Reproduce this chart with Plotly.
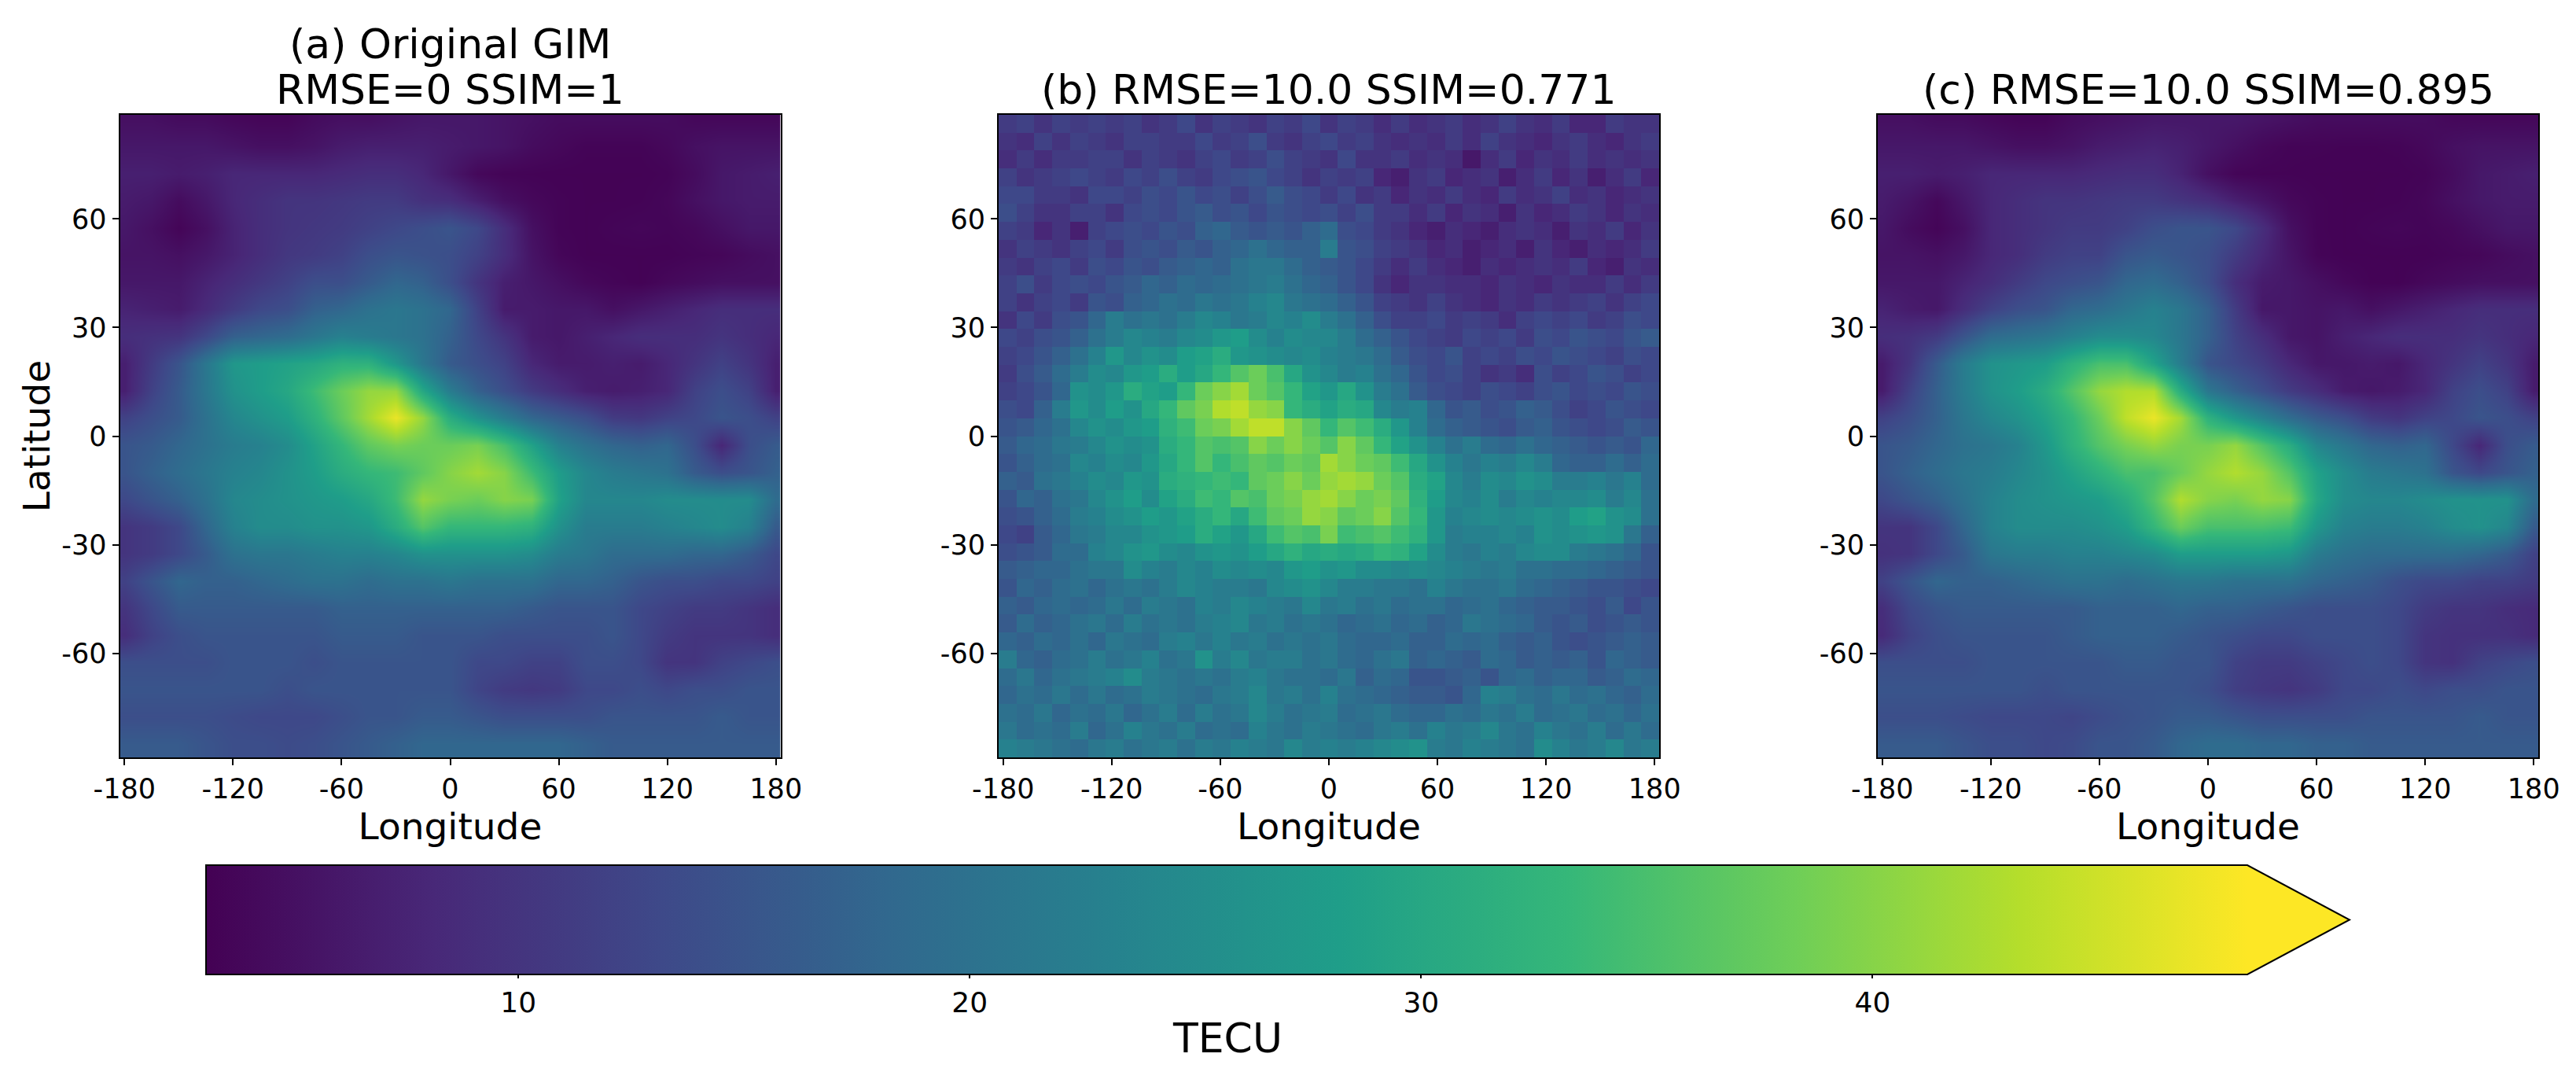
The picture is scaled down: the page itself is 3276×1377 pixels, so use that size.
# plot.py - TECU maps
import plotly.graph_objects as go

W, H = 3276, 1377

lon_ticks = [-180, -120, -60, 0, 60, 120, 180]
lon_labels = ["-180", "-120", "-60", "0", "60", "120", "180"]
lat_ticks = [-60, -30, 0, 30, 60]
lat_labels = ["-60", "-30", "0", "30", "60"]
cbar_ticks = [10, 20, 30, 40]

title_lines = [["RMSE=0 SSIM=1", "(a) Original GIM"], ["(b) RMSE=10.0 SSIM=0.771"], ["(c) RMSE=10.0 SSIM=0.895"]]

zmin, zmax = 3.1, 48.3

# coarse grid (a) and (c)
smooth_lon = [-180, -165, -150, -135, -120, -105, -90, -75, -60, -45, -30, -15, 0, 15, 30, 45, 60, 75, 90, 105, 120, 135, 150, 165, 180]
smooth_lat = [87.5, 80, 72.5, 65, 57.5, 50, 42.5, 35, 27.5, 20, 12.5, 5, -2.5, -10, -17.5, -25, -32.5, -40, -47.5, -55, -62.5, -70, -77.5, -85]

gim_a = [
    [5,5,4.5,4.5,4,3.7,3.7,4.5,5,5,5.5,6,6,6,5.5,5,4.5,4.5,4.5,4.5,4.5,4,4,4,4],
    [6,6,6,6,5.5,5,5,5.5,6.5,7,7,7,6.5,6,5.5,4.5,4,3.5,3.5,3.5,4,5,5.5,5.5,5.5],
    [7,7,6.5,7,8,8,8,8,8.5,9,9,8,6,4,3.5,3.4,3.3,3.3,3.3,3.3,3.5,4.5,6,6.5,7],
    [6.5,6,4.5,6,8,9,10,10,10.5,11,11,9.5,9,7,5,4,3.5,3.3,3.3,3.4,3.8,5,6,6.5,6.5],
    [6,5,3.6,5,7.5,9,10,10.5,11,12,13,14,15,13,9,5,3.5,3.3,3.6,3.8,3.6,4,5,6,6],
    [5.5,5.5,5,6,7.5,9,10.5,11,12,14,15,14.5,14,12,9,5.5,3.8,3.3,3.3,3.3,3.3,3.6,3.8,4.5,5],
    [6,6,6,7.5,9,10.5,12,14,14,16,18,17,14,10,7,6,5,4,3.6,3.3,4,4.5,5,5,5],
    [7.5,7,6.5,8.5,11,13,14,17,18,20,21,20,18,12,6.5,6.5,6,6,5,6,7,8,9,9,9],
    [9,9.5,10,13,17,18,19,21,23,22,21,20,17,13,10,6.5,6,7,8,9,9,9,10,9,8],
    [7,11,15,21,27,28,29,30,32,32,27,21,16,14,12,8,6.5,6.5,7,6.5,8,10,12,10,7],
    [7,12,16,21,26,28,30,34,38,41,41,30,22,17,14,11,9,7,6.5,7,8,12,14,12,7],
    [12,14,16,20,24,26,28,32,37,42,47,41,31,26,22,18,16,14,11,10.5,12,13,15,14,12],
    [15,16,18,20,22,23,25,29,33,37,39,38,38,39,35,29,23,20,18,17,18,14,8,14,16],
    [15,17,19,21,23,24,26,28,31,33,34,37,40,42,40,34,28,24,22,21,20,16,14,15,17],
    [13,15,17,20,24,25,26,27,28,30,34,41,39,38,40,39,29,24,24,24,25,25,25,25,19],
    [10,11,13,18,23,25,25,26,26,27,31,36,33,33,33,32,26,22,22,22,23,24,25,23,16],
    [10,11,13,16,20,21,21,22,23,23,24,26,26,26,26,25,22,21,19,19,19,18,18,16,13],
    [12,15,18,17,17,18,19,20,20,19,20,20,21,20,20,20,18,18,17,15,14,14,13,13,12],
    [10,13,16,16,16,16,16,16,17,17,17,17,17,17,17,16,15,15,15,13,12,11,11,10,9],
    [9,12,14,15,15,15,15,15,16,16,16,15,15,15,14,14,14,14,15,13,11,10,10,10,9],
    [14,14,14,14,15,15,15,14,15,15,15,15,15,13,13,12,12,14,14,13,10,10,12,13,14],
    [15,15,15,15,15,15,14,15,15,15,15,15,15,12.5,11,10.5,11,13,13,14,13,14,14,15,15],
    [14,14,14,14,13.5,13,13,13,14,15,15,16,16,15,14,14,14,14,15,15,15,15,16,15,15],
    [16,16,16,15,14,14,13.5,14,15,16,17,18,18,18,18,18,18,17,16,16,16,16,16,16,16],
]

gim_c = [
    [5,5,4.5,4.5,4,3.6,3.6,4.5,5,5.5,6,6,6,6,5.5,5,4.5,4.5,4.5,4.5,4.5,4,4,4,4],
    [6,6,6,6,5.5,5,5,5.5,6.5,7,7.5,7,6,5,4,3.5,3.5,3.4,3.4,3.5,4,5,5.5,5.5,5.5],
    [7,7,6.5,7,8,8,8,8,8.5,9,9,7.5,5,3.6,3.4,3.4,3.3,3.3,3.3,3.3,3.5,4.5,6,6.5,7],
    [6.5,5.5,4,6,8,9,10,10,10.5,11,11,10,9,7,5.5,4,3.5,3.3,3.3,3.4,3.8,5,6,6.5,6.5],
    [6,4.5,3.6,5,8,9,10,11,11,12,14,15,15,13,9,5,3.5,3.3,3.6,3.8,3.6,4,5,6,6],
    [5.5,5.5,5,6,8,9,11,12,12,15,16,15,14,11,8,5.5,3.6,3.3,3.3,3.3,3.3,3.6,3.8,4.5,5],
    [6,6,6,7.5,9,11,13,14,15,18,19,17,14,9,6.5,6,5,4,3.4,3.3,4,4.5,5,5,5],
    [7.5,6.5,6,9,12,14,15,18,19,21,23,21,17,11,6,6,5.5,6,5,6,7,8,9,9,9],
    [9,9.5,11,15,19,20,21,23,25,25,24,21,17,12,9,6,5.5,7,8,9,9,9,10,9,8],
    [6.5,10,16,22,26,27,28,32,35,35,29,22,15,13,11,8,6,6,6.5,6,8,10,12,10,6.5],
    [6.5,12,17,22,26,28,31,36,41,43,43,31,21,17,14,11,9,6.5,6,6.5,8,12,14,12,6.5],
    [12,14,17,21,24,26,29,33,38,44,47,42,32,27,23,19,16,14,11,10,12,13,15,14,12],
    [15,16,18,20,21,23,27,32,36,39,41,39,39,41,36,31,24,21,18,17,18,13,8,14,16],
    [15,17,19,21,22,24,26,29,32,35,35,38,41,43,41,36,29,25,22,21,20,15,13,15,17],
    [13,15,17,20,23,25,26,27,28,31,36,43,40,39,41,40,30,25,24,24,25,26,26,26,19],
    [10,10,13,18,23,25,25,25,26,28,33,38,35,35,35,34,27,23,22,22,23,25,26,24,16],
    [9.5,10,13,16,21,22,22,23,23,24,25,28,28,28,28,27,22,20,19,19,19,19,18,16,12],
    [12,15,18,17,17,18,19,20,20,19,20,21,21,20,20,20,18,17,16,14,13,13,12,12,11],
    [9,13,15,16,16,16,16,16,17,17,17,18,17,17,16,15,14,14,14,13,11,10,10,9,8.5],
    [8.5,12,14,15,15,15,15,16,17,17,17,16,15,14,13,13,14,14,14,13,10,9.5,9.5,9.5,8.5],
    [14,14,14,14,15,15,15,15,15,16,16,15,15,12,11,11,12,13,14,13,10,9.5,12,13,14],
    [15,15,15,15,15,15,14,15,15,15,15,15,14,11.5,10.5,10,11,13,13,14,13,14,14,15,15],
    [14,14,14,13.5,13,13,13,12.5,13.5,14.5,15,16,16,15,14,14,14,14,15,15,15,15,16,15,15],
    [16,16,16,15,14,14,13,13.5,15,15,16,18,19,19,18,18,17,17,16,16,16,16,16,16,16],
]

# panel (b) read as blocks of 2x2 original cells
gim_b = [
    [11,12,10,12,11,12,11,12,10,11,13,10,12,11,10,12,11,13,10,12,11,9,11,9,10,11,9,10,12,10,9,11,8,8,11,10,10],
    [10,9,12,10,12,11,10,12,12,11,11,13,11,12,14,11,10,12,13,11,12,10,9,10,9,11,9,12,10,9,8,10,11,9,8,10,11],
    [9,11,9,11,11,12,12,10,12,11,10,12,13,11,12,14,12,11,10,13,10,10,11,9,10,9,6,9,11,8,10,9,11,9,10,9,10],
    [12,10,11,12,13,12,11,13,12,14,12,11,13,14,15,13,12,10,12,11,12,8,7,10,11,8,9,10,7,9,11,8,10,7,9,11,8],
    [13,13,11,11,10,13,13,12,14,13,15,13,14,12,14,16,14,13,11,13,10,11,8,10,9,11,9,8,11,9,10,12,9,10,8,9,10],
    [14,12,10,10,12,12,10,13,14,13,15,16,14,15,13,15,14,13,14,12,14,11,11,9,11,8,10,9,7,10,8,9,11,10,8,10,9],
    [12,11,8,10,7,12,13,14,13,15,14,17,18,16,15,16,15,17,19,14,13,11,10,8,7,9,8,7,9,10,9,7,10,9,11,8,10],
    [10,12,11,10,12,13,11,14,15,14,16,15,17,18,20,18,17,17,22,15,14,12,11,10,8,9,7,8,9,7,10,8,7,9,8,9,11],
    [11,10,12,13,11,14,13,15,14,16,17,18,17,20,21,21,19,17,16,15,13,11,9,11,9,8,7,9,8,9,10,9,11,8,7,10,9],
    [12,14,11,13,14,13,15,16,18,17,19,18,19,20,21,22,20,18,17,15,13,10,8,10,10,9,9,8,10,9,8,10,9,9,11,9,11],
    [12,10,12,13,11,15,14,17,18,20,19,21,20,21,23,24,21,20,19,17,15,12,11,10,12,10,9,8,10,9,11,10,11,12,10,12,13],
    [10,13,11,14,15,18,22,20,21,20,22,24,23,21,22,24,23,25,22,20,17,14,12,12,13,11,12,11,9,12,13,12,13,11,12,14,13],
    [13,12,14,15,17,20,22,24,23,22,24,25,27,28,25,23,25,24,24,22,19,17,15,13,12,11,13,12,13,11,14,13,15,14,13,15,16],
    [12,13,15,17,20,23,27,24,26,25,28,29,31,27,26,25,24,25,23,22,21,19,16,14,13,15,12,13,12,14,13,15,14,13,12,14,13],
    [11,14,16,19,22,25,24,27,28,31,28,30,33,36,38,35,30,26,24,22,23,20,18,15,13,14,12,10,11,9,14,12,13,15,14,12,13],
    [12,13,15,18,26,25,27,31,29,28,33,38,40,42,38,36,33,29,27,30,26,22,20,16,14,13,12,14,13,12,14,15,13,14,13,15,14],
    [14,13,17,22,27,25,28,26,30,33,37,39,43,44,41,40,33,31,29,31,30,24,22,23,18,15,16,14,15,17,16,14,12,13,15,14,13],
    [15,16,18,20,24,26,25,27,28,32,34,38,39,42,44,44,40,37,33,36,34,31,27,23,19,17,16,15,14,16,17,15,14,13,14,16,15],
    [16,18,19,21,22,24,26,25,26,31,33,36,35,36,40,38,40,38,36,40,37,33,29,26,23,20,22,19,18,20,18,17,16,15,16,15,18],
    [15,17,19,20,24,23,25,24,27,30,33,36,33,35,37,36,38,37,42,40,38,37,34,30,26,23,21,23,22,24,22,18,17,17,19,17,19],
    [17,16,20,21,23,25,24,27,26,31,32,33,34,33,37,38,40,38,41,42,41,38,36,31,29,24,22,25,24,26,25,22,22,23,21,23,19],
    [15,18,17,20,21,24,26,28,25,29,31,34,33,36,35,38,39,41,42,40,38,39,37,32,28,24,23,25,22,24,23,24,24,25,22,24,20],
    [14,15,17,19,22,23,25,26,28,27,29,31,33,30,34,37,38,41,40,37,38,40,36,33,27,23,24,25,24,25,26,25,28,29,26,25,20],
    [13,12,16,18,21,22,24,24,26,27,28,31,29,27,30,34,36,35,39,34,35,36,34,32,27,22,23,23,24,23,26,25,26,27,26,21,17],
    [14,15,16,19,19,23,24,26,27,25,24,26,27,26,28,30,32,30,31,30,31,33,32,29,25,22,21,23,22,24,25,25,22,21,20,18,15],
    [16,17,18,18,20,21,21,25,23,22,24,23,25,24,25,24,27,28,26,27,25,25,24,25,24,23,22,21,22,20,20,19,19,18,17,16,15],
    [15,18,17,19,20,18,20,21,20,22,24,23,22,22,21,24,25,26,24,22,22,21,21,20,23,21,20,20,21,19,18,17,16,15,15,14,13],
    [17,16,18,19,18,19,21,19,22,21,20,23,22,24,23,22,21,24,21,22,20,21,19,20,20,18,19,20,18,17,16,16,15,14,16,13,15],
    [16,19,17,18,20,21,19,22,20,21,20,22,23,24,21,22,20,21,20,18,19,20,18,19,17,18,21,20,19,18,16,15,16,14,15,16,15],
    [18,17,19,18,20,18,21,20,19,22,23,21,23,21,22,20,21,20,21,19,18,18,19,17,17,19,18,19,17,16,17,15,14,15,16,17,16],
    [22,18,17,19,20,22,20,21,23,20,21,26,22,24,21,22,22,20,21,19,18,20,21,17,18,17,16,19,18,16,17,16,17,15,18,17,16],
    [19,21,18,20,21,22,23,25,22,21,20,21,20,22,23,21,20,20,19,21,17,19,18,15,15,16,17,15,18,19,17,18,18,16,17,19,18],
    [18,20,19,21,19,21,19,20,22,21,20,19,21,22,24,21,22,20,23,20,19,18,17,16,16,15,18,23,22,20,19,21,19,20,18,17,19],
    [20,19,21,18,20,19,21,18,20,22,19,22,20,21,24,22,20,21,22,19,20,21,19,18,18,20,19,21,20,22,19,20,21,19,20,18,20],
    [21,19,20,19,22,18,20,23,21,20,22,19,20,19,23,21,20,22,21,20,19,21,22,20,23,21,22,24,21,20,23,21,20,22,19,21,19],
    [23,22,21,20,19,21,22,20,21,22,20,22,21,23,22,21,24,22,23,22,23,24,25,26,22,21,23,22,21,20,25,23,21,22,24,21,22],
]

FONT = "DejaVu Sans"
lon_range = [-182.5, 182.5]
lat_range = [-88.75, 88.75]

# panel and colorbar boxes in pixels
panels_px = [(152.5, 992.5), (1270, 2110), (2388, 3228)]
top_px, bottom_px = 146, 963
bar_left, bar_right, bar_tip, bar_top, bar_bottom = 263, 2858, 2988, 1101, 1238

fx = lambda p: p / W
fy = lambda p: 1 - p / H

fig = go.Figure()

colorbar = dict(
    orientation="h", lenmode="pixels", len=bar_right - bar_left,
    thicknessmode="pixels", thickness=bar_bottom - bar_top,
    x=fx((bar_left + bar_right) / 2), xanchor="center", y=fy(bar_top), yanchor="top", ypad=0, xpad=0,
    tickvals=cbar_ticks, ticks="outside", ticklen=6, tickwidth=1.5, tickcolor="black",
    tickfont=dict(family=FONT, size=36, color="black"),
    outlinewidth=0,
)

fig.add_trace(go.Heatmap(x=smooth_lon, y=smooth_lat, z=gim_a, zsmooth="best", colorscale="Viridis",
                         zmin=zmin, zmax=zmax, colorbar=colorbar, xaxis="x", yaxis="y"))
fig.add_trace(go.Heatmap(x0=lon_range[0] + 365 / 74, dx=365 / 37, y0=lat_range[1] - 177.5 / 72, dy=-177.5 / 36,
                         z=gim_b, zsmooth=False, colorscale="Viridis",
                         zmin=zmin, zmax=zmax, showscale=False, xaxis="x2", yaxis="y2"))
fig.add_trace(go.Heatmap(x=smooth_lon, y=smooth_lat, z=gim_c, zsmooth="best", colorscale="Viridis",
                         zmin=zmin, zmax=zmax, showscale=False, xaxis="x3", yaxis="y3"))

layout = dict(width=W, height=H, margin=dict(l=0, r=0, t=0, b=0, autoexpand=False),
              paper_bgcolor="white", plot_bgcolor="white", font=dict(family=FONT, color="black"))
for i, (left, right) in enumerate(panels_px):
    suffix = "" if i == 0 else str(i + 1)
    layout["xaxis" + suffix] = dict(
        domain=[fx(left), fx(right)], range=lon_range, anchor="y" + suffix,
        tickvals=lon_ticks, ticktext=lon_labels, ticks="outside", ticklen=8, tickwidth=1.5,
        tickcolor="black", tickfont=dict(size=35), showgrid=False, zeroline=False,
        showline=True, linecolor="black", linewidth=2, mirror=True,
        title=dict(text="Longitude", font=dict(size=47), standoff=0),
    )
    layout["yaxis" + suffix] = dict(
        domain=[fy(bottom_px), fy(top_px)], range=lat_range, anchor="x" + suffix,
        tickvals=lat_ticks, ticktext=lat_labels, ticks="outside", ticklen=8, tickwidth=1.5,
        tickcolor="black", tickfont=dict(size=35), showgrid=False, zeroline=False,
        showline=True, linecolor="black", linewidth=2, mirror=True,
    )
layout["yaxis"]["title"] = dict(text="Latitude", font=dict(size=47), standoff=0)

annotations = []
for i, lines in enumerate(title_lines):
    for j, line in enumerate(lines):
        annotations.append(dict(text=line, x=fx(sum(panels_px[i]) / 2), y=fy(top_px), xref="paper", yref="paper",
                                xanchor="center", yanchor="bottom", yshift=58 * j, showarrow=False,
                                font=dict(family=FONT, size=52, color="black")))
annotations.append(dict(text="TECU", x=fx(1561), y=fy(1320), xref="paper", yref="paper", xanchor="center",
                        yanchor="middle", showarrow=False, font=dict(family=FONT, size=52, color="black")))
layout["annotations"] = annotations

mid = (bar_top + bar_bottom) / 2
layout["shapes"] = [
    # extend-max arrow, then the outline round bar and arrow
    dict(type="path", xref="paper", yref="paper", fillcolor="#fde725", line=dict(width=0),
         path=f"M {fx(bar_right)},{fy(bar_top)} L {fx(bar_tip)},{fy(mid)} L {fx(bar_right)},{fy(bar_bottom)} Z"),
    dict(type="path", xref="paper", yref="paper", line=dict(color="black", width=2),
         path=f"M {fx(bar_left - 1)},{fy(bar_top - 1)} L {fx(bar_right)},{fy(bar_top - 1)} L {fx(bar_tip)},{fy(mid)} "
              f"L {fx(bar_right)},{fy(bar_bottom + 1)} L {fx(bar_left - 1)},{fy(bar_bottom + 1)} Z"),
]

fig.update_layout(**layout)
fig.write_html("out.html", post_script="document.body.style.margin='0';", config={"displayModeBar": False})
